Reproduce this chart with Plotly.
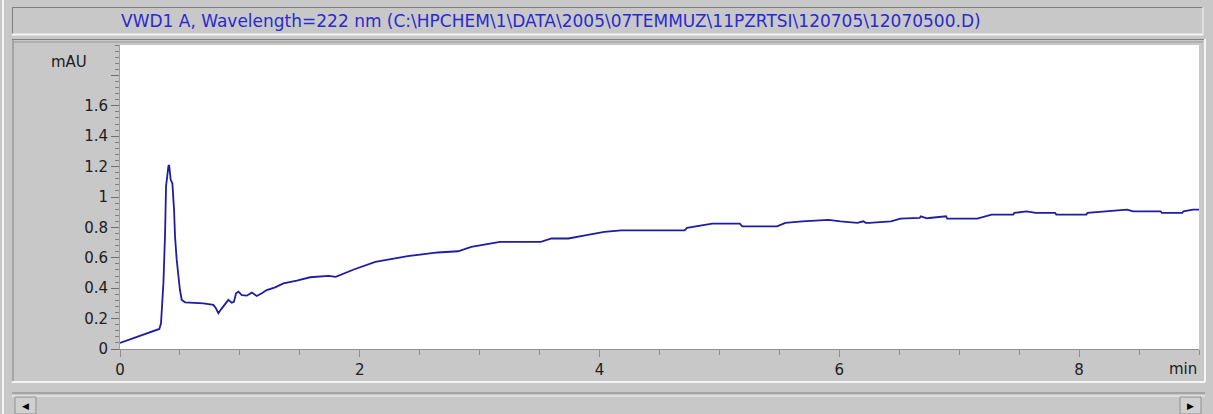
import plotly.graph_objects as go

# ---- data ----
time_min = [0.00, 0.014, 0.083, 0.167, 0.25, 0.328, 0.342, 0.348, 0.362, 0.376, 0.384,
            0.404, 0.41, 0.423, 0.437, 0.451, 0.459, 0.473, 0.487, 0.50, 0.515, 0.543,
            0.696, 0.779, 0.80, 0.821, 0.843, 0.876, 0.904, 0.932, 0.95, 0.968, 0.988,
            1.016, 1.057, 1.099, 1.141, 1.183, 1.224, 1.294, 1.363, 1.475, 1.586,
            1.74, 1.80, 1.95, 2.13, 2.40, 2.65, 2.82, 2.93, 3.17, 3.51, 3.60, 3.74,
            3.88, 4.04, 4.18, 4.71, 4.73, 4.84, 4.94, 5.17, 5.19, 5.48, 5.55, 5.69,
            5.91, 6.01, 6.15, 6.20, 6.22, 6.25, 6.43, 6.51, 6.67, 6.68, 6.73, 6.75,
            6.89, 6.90, 7.15, 7.27, 7.45, 7.46, 7.56, 7.64, 7.80, 7.81, 8.06, 8.07,
            8.26, 8.40, 8.45, 8.68, 8.69, 8.86, 8.87, 8.95, 9.02]
absorbance = [0.040, 0.044, 0.066, 0.088, 0.110, 0.132, 0.169, 0.235, 0.432, 0.760, 1.070,
              1.205, 1.210, 1.113, 1.090, 0.915, 0.740, 0.586, 0.454, 0.388, 0.323, 0.307,
              0.300, 0.290, 0.268, 0.235, 0.261, 0.296, 0.323, 0.305, 0.310, 0.367, 0.377,
              0.355, 0.351, 0.371, 0.349, 0.367, 0.388, 0.406, 0.432, 0.450, 0.472,
              0.481, 0.475, 0.523, 0.573, 0.611, 0.635, 0.643, 0.672, 0.705, 0.705, 0.727, 0.727,
              0.748, 0.770, 0.781, 0.781, 0.797, 0.810, 0.825, 0.825, 0.807, 0.807, 0.830, 0.840,
              0.850, 0.840, 0.830, 0.840, 0.830, 0.830, 0.840, 0.858, 0.862, 0.873, 0.860, 0.862,
              0.873, 0.858, 0.858, 0.884, 0.884, 0.895, 0.906, 0.895, 0.895, 0.884, 0.884, 0.895,
              0.906, 0.917, 0.906, 0.906, 0.895, 0.895, 0.906, 0.917, 0.917]

y_tick_vals = [0, 0.2, 0.4, 0.6, 0.8, 1.0, 1.2, 1.4, 1.6, 1.8]
y_tick_text = ["0", "0.2", "0.4", "0.6", "0.8", "1", "1.2", "1.4", "1.6", ""]
x_tick_vals = [0, 2, 4, 6, 8]
x_tick_text = ["0", "2", "4", "6", "8"]

title_text = "VWD1 A, Wavelength=222 nm (C:\\HPCHEM\\1\\DATA\\2005\\07TEMMUZ\\11PZRTSI\\120705\\12070500.D)"

# ---- geometry ----
W, H = 1213, 414
L, R, T, B = 120, 14, 45, 65
PW, PH = W - L - R, H - T - B


def px(x):
    return (x - L) / PW


def py(y):
    return (H - B - y) / PH


GRAY = "#c8c8c8"
DARK = "#808080"
WHITE = "#f4f4f4"
FONT = "DejaVu Sans"

fig = go.Figure()
fig.add_trace(go.Scatter(x=time_min, y=absorbance, mode="lines",
                         line=dict(color="#1e1ea0", width=1.8), showlegend=False))

shapes = []


def hline(x0, x1, y, color, w=1):
    shapes.append(dict(type="line", xref="paper", yref="paper", x0=px(x0), x1=px(x1),
                       y0=py(y), y1=py(y), line=dict(color=color, width=w), layer="above"))


def vline(x, y0, y1, color, w=1):
    shapes.append(dict(type="line", xref="paper", yref="paper", x0=px(x), x1=px(x),
                       y0=py(y0), y1=py(y1), line=dict(color=color, width=w), layer="above"))


# outer window edge
vline(3, 0, H, WHITE, 2)
# title bar
hline(12, 1203, 7.5, DARK)
vline(12.5, 7, 34, DARK)
hline(12, 1203, 34.5, WHITE, 2)
vline(1203, 7, 35, WHITE)
# chart panel
hline(12, 1205, 39.5, DARK)
hline(14, 1203, 42, "#9a9a9a")
vline(13, 39, 382, DARK)
hline(12, 1205, 382, WHITE, 2)
vline(1205, 39, 382, WHITE, 2)
# scrollbar
hline(12, 1205, 393, DARK)
hline(12, 1205, 396, WHITE)
shapes.append(dict(type="rect", xref="paper", yref="paper", x0=px(15), x1=px(36),
                   y0=py(397), y1=py(414), line=dict(color="#909090", width=1),
                   fillcolor="#d0d0d0", layer="above"))
shapes.append(dict(type="rect", xref="paper", yref="paper", x0=px(1180), x1=px(1201),
                   y0=py(397), y1=py(414), line=dict(color="#909090", width=1),
                   fillcolor="#d0d0d0", layer="above"))

annotations = [
    dict(text=title_text, xref="paper", yref="paper", x=px(551), y=py(21),
         showarrow=False, font=dict(family=FONT, size=17, color="#2a2ad0"),
         xanchor="center", yanchor="middle"),
    dict(text="mAU", xref="paper", yref="paper", x=px(89), y=py(62),
         showarrow=False, font=dict(family=FONT, size=15, color="#202020"),
         xanchor="right", yanchor="middle"),
    dict(text="min", xref="paper", yref="paper", x=px(1199), y=py(369),
         showarrow=False, font=dict(family=FONT, size=15, color="#202020"),
         xanchor="right", yanchor="middle"),
    dict(text="◀", xref="paper", yref="paper", x=px(25.5), y=py(406),
         showarrow=False, font=dict(family=FONT, size=9, color="#000000"),
         xanchor="center", yanchor="middle"),
    dict(text="▶", xref="paper", yref="paper", x=px(1190.5), y=py(406),
         showarrow=False, font=dict(family=FONT, size=9, color="#000000"),
         xanchor="center", yanchor="middle"),
]

fig.update_layout(
    width=W, height=H,
    margin=dict(l=L, r=R, t=T, b=B, autoexpand=False),
    paper_bgcolor=GRAY, plot_bgcolor="white",
    shapes=shapes, annotations=annotations,
    showlegend=False,
    xaxis=dict(range=[0, 9.0], tickvals=x_tick_vals, ticktext=x_tick_text,
               ticks="outside", ticklen=7, tickcolor="#909090", tickwidth=1,
               showgrid=False, zeroline=False, showline=True, linecolor="#909090",
               linewidth=1, tickfont=dict(family=FONT, size=15, color="#202020"),
               minor=dict(dtick=0.5, tick0=0, ticks="outside", ticklen=5,
                          tickcolor="#909090", showgrid=False),
               fixedrange=True),
    yaxis=dict(range=[0, 2.0], tickvals=y_tick_vals, ticktext=y_tick_text,
               ticks="outside", ticklen=8, tickcolor="#707070", tickwidth=1,
               showgrid=False, zeroline=False, showline=True, linecolor="#a0a0a0",
               linewidth=1, tickfont=dict(family=FONT, size=15, color="#202020"),
               minor=dict(dtick=0.04, tick0=0, ticks="outside", ticklen=4,
                          tickcolor="#808080", showgrid=False),
               fixedrange=True),
)

fig.write_html("out.html", config={"displayModeBar": False},
               post_script="document.body.style.margin='0';"
                           "document.body.style.background='#c8c8c8';")
